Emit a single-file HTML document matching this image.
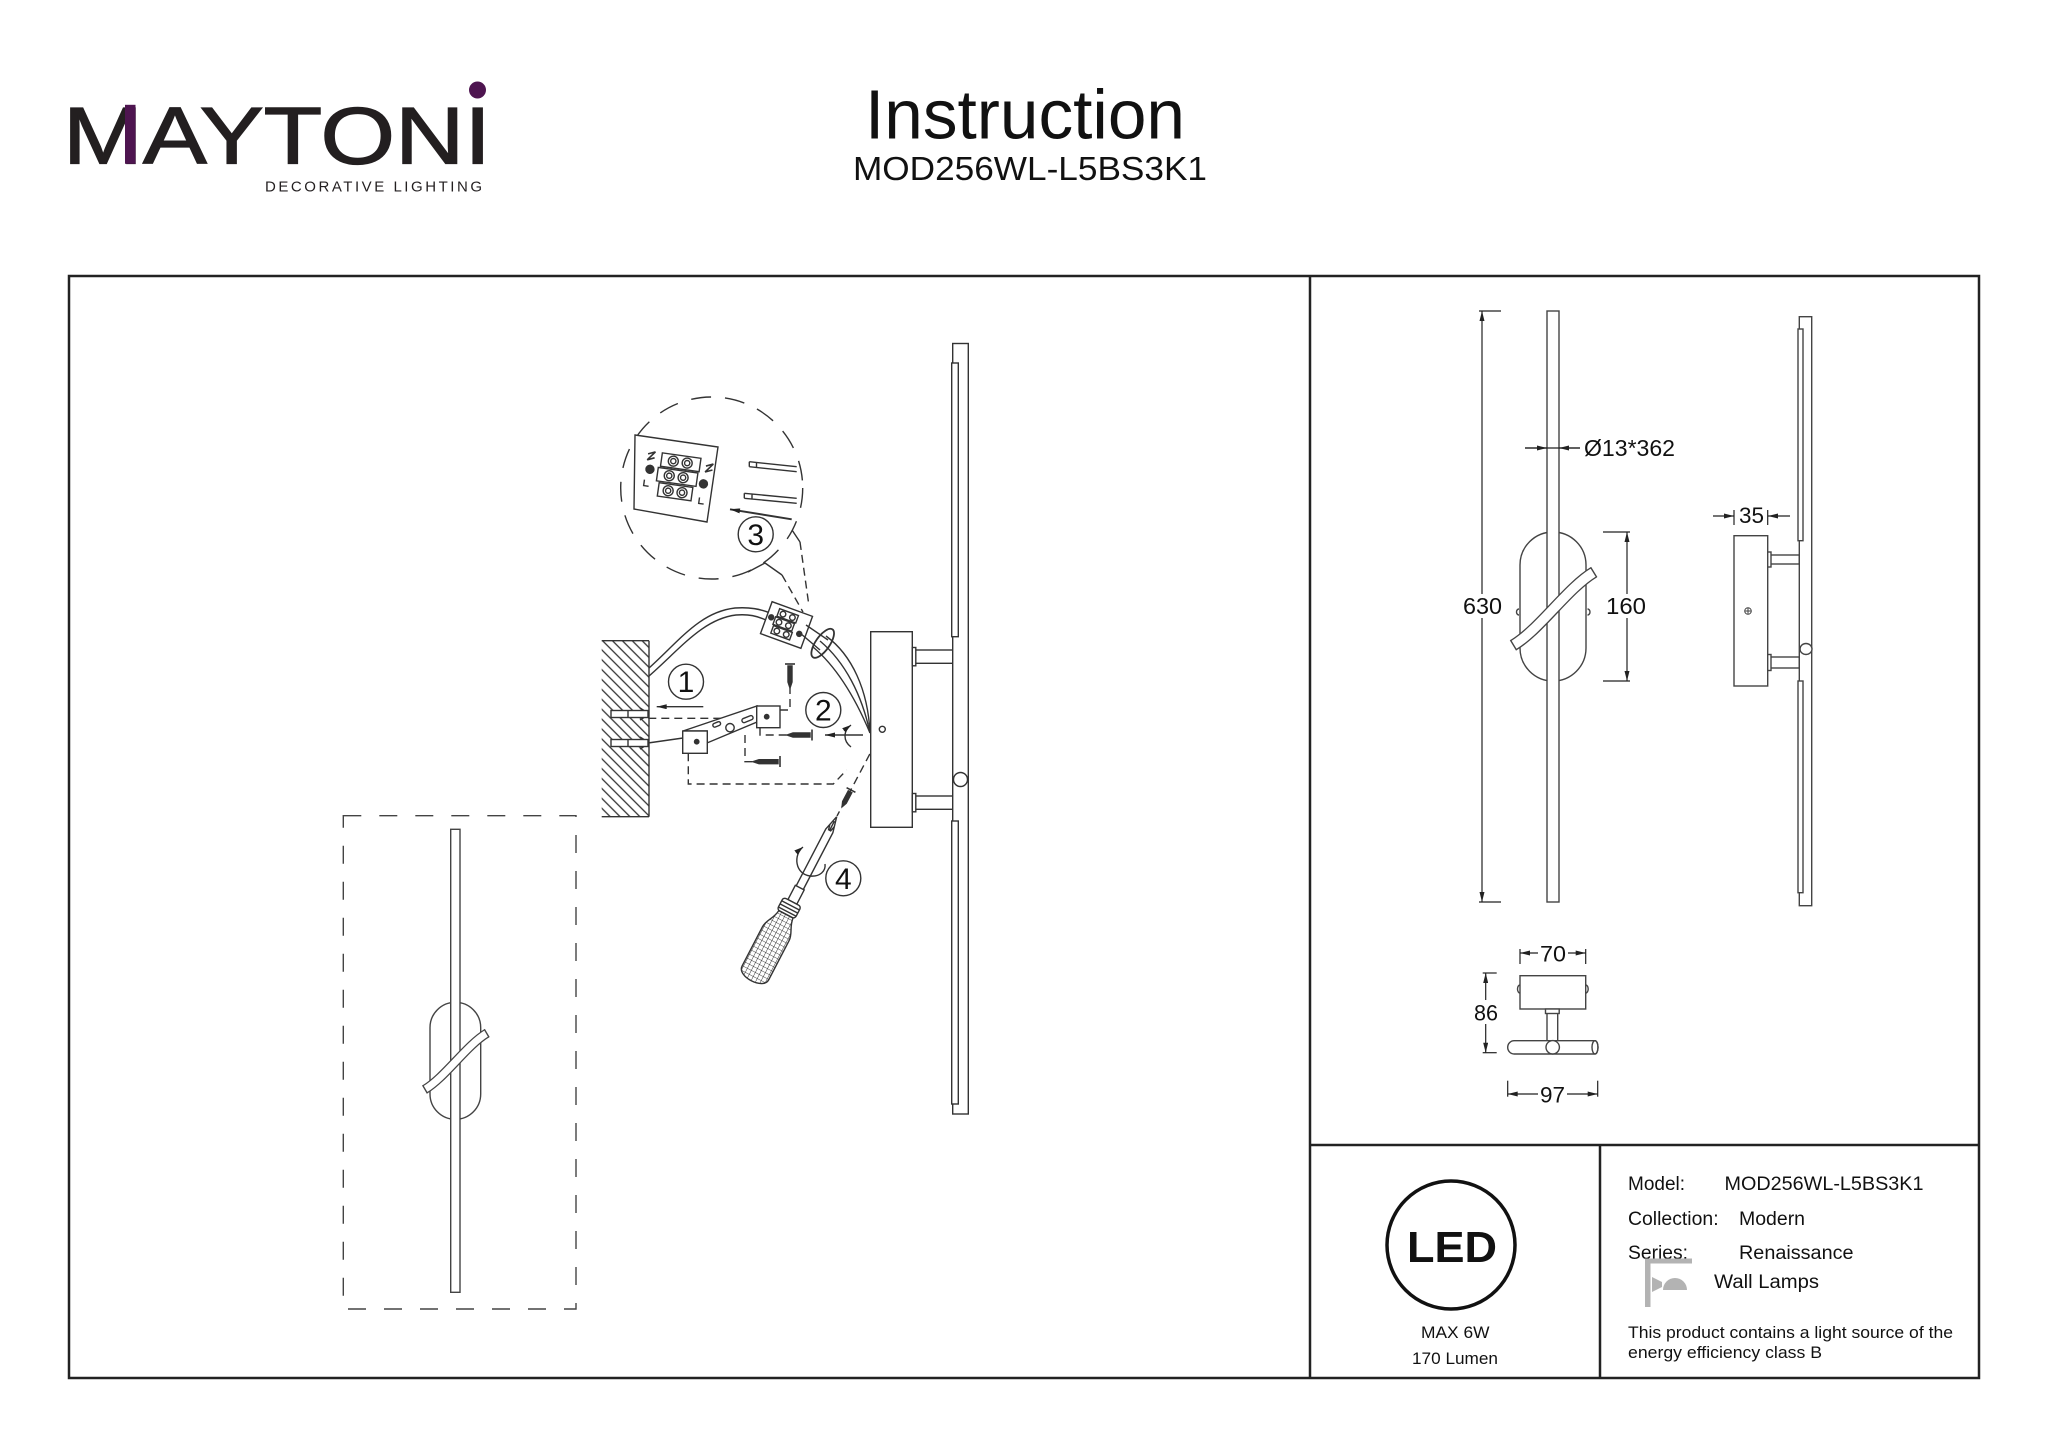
<!DOCTYPE html>
<html><head><meta charset="utf-8"><style>html,body{margin:0;padding:0;background:#fff}svg{display:block}</style></head><body>
<svg width="2048" height="1447" viewBox="0 0 2048 1447" xmlns="http://www.w3.org/2000/svg" font-family="'Liberation Sans', Arial, sans-serif">
<defs>
<marker id="ar" viewBox="0 0 12 6" refX="12" refY="3" markerWidth="12" markerHeight="5" orient="auto-start-reverse" markerUnits="userSpaceOnUse"><path d="M0,0 L12,3 L0,6 z" fill="#222"/></marker>
<marker id="ar2" viewBox="0 0 10 6" refX="10" refY="3" markerWidth="9" markerHeight="6" orient="auto-start-reverse" markerUnits="userSpaceOnUse"><path d="M0,0 L10,3 L0,6 z" fill="#222"/></marker>
<pattern id="hatch" width="7" height="7" patternUnits="userSpaceOnUse" patternTransform="rotate(-45)"><line x1="1" y1="0" x2="1" y2="7" stroke="#333" stroke-width="1.3"/></pattern>
<pattern id="grid" width="4.5" height="4.5" patternUnits="userSpaceOnUse"><path d="M0,0 H4.5 M0,0 V4.5" stroke="#333" stroke-width="0.9" fill="none"/></pattern>
</defs>
<rect width="2048" height="1447" fill="#fff"/>

<!-- Header logo -->
<text x="63" y="163.3" font-size="81" fill="#231f20" stroke="#231f20" stroke-width="1.3" textLength="428" lengthAdjust="spacingAndGlyphs">MAYTONI</text>
<rect x="125" y="104.8" width="10.5" height="59" fill="#4e1550"/>
<circle cx="477.5" cy="90" r="8.5" fill="#4e1550"/>
<text x="265" y="191.7" font-size="15" fill="#231f20" textLength="217" lengthAdjust="spacing">DECORATIVE LIGHTING</text>

<!-- Title -->
<text x="865" y="138.5" font-size="70" fill="#111" textLength="320" lengthAdjust="spacingAndGlyphs">Instruction</text>
<text x="853" y="180" font-size="33" fill="#111" textLength="354" lengthAdjust="spacingAndGlyphs">MOD256WL-L5BS3K1</text>

<!-- Frame -->
<g stroke="#222" stroke-width="2.5" fill="none">
<rect x="69" y="276" width="1910" height="1102"/>
<line x1="1310" y1="276" x2="1310" y2="1378"/>
<line x1="1310" y1="1145" x2="1979" y2="1145"/>
<line x1="1600" y1="1145" x2="1600" y2="1378"/>
</g>

<!-- Left dashed box lamp -->
<g stroke="#444" stroke-width="1.4" fill="none">
<rect x="343.3" y="815.7" width="232.7" height="493.3" stroke-dasharray="18 18"/>
<rect x="430" y="1002.3" width="50.7" height="117" rx="25.3"/>
<rect x="450.7" y="829.3" width="9.3" height="463" fill="#fff"/>
<path d="M486.7,1033.3 C466.7,1045.3 445,1077.3 425,1089.3" stroke="#444" stroke-width="9.5"/>
<path d="M486.7,1033.3 C466.7,1045.3 445,1077.3 425,1089.3" stroke="#fff" stroke-width="7"/>
<line x1="489.1" y1="1037.4" x2="484.3" y2="1029.2"/>
<line x1="427.4" y1="1093.4" x2="422.6" y2="1085.2"/>
</g>

<!-- Installation drawing -->
<g stroke="#333" stroke-width="1.4" fill="none">
<rect x="601.7" y="640.7" width="47.3" height="176" fill="url(#hatch)" stroke="none"/>
<line x1="649" y1="640.7" x2="649" y2="816.7"/>
<line x1="601.7" y1="640.7" x2="649" y2="640.7"/>
<line x1="601.7" y1="816.7" x2="649" y2="816.7"/>
<rect x="611" y="710.5" width="37" height="7" fill="#fff"/>
<line x1="628" y1="710.5" x2="628" y2="717.5"/>
<path d="M640,708 L644,710.5 M640,720 L644,717.5"/>
<rect x="611" y="739.5" width="37" height="7" fill="#fff"/>
<line x1="628" y1="739.5" x2="628" y2="746.5"/>
<path d="M640,737 L644,739.5 M640,749 L644,746.5"/>
<path d="M649,668 C680,640 700,612 735,608 C750,607 760,609 770,613"/>
<path d="M649,676 C681,648 703,619 736,615 C749,614 757,616 766,620"/>
<g stroke-dasharray="8 5">
<path d="M648.3,718.3 H721"/>
<path d="M780,710 H790 V688"/>
<path d="M760,727.7 V735 H787"/>
<path d="M745,735 V761.7 H753"/>
<path d="M688.3,753.3 V784 H833.3 L846.7,770"/>
<path d="M882,731 L837,816"/>
<path d="M782,575 L803,612"/>
<path d="M800,542 L809,606"/>
</g>
<path d="M648,743 L683,738"/>
<polygon points="683,731 757,706 757,722 707,743 707,731" fill="#fff"/>
<rect x="682.7" y="731" width="24.6" height="22.3" fill="#fff"/>
<rect x="756.7" y="706" width="23.3" height="21.7" fill="#fff"/>
<rect x="712.7" y="722.5" width="8" height="3.8" rx="1.8" transform="rotate(-22 716.7 724.4)"/>
<circle cx="730" cy="727.7" r="4.2"/>
<rect x="741.7" y="717" width="11.6" height="4.2" rx="2" transform="rotate(-22 747.5 719.1)"/>
<circle cx="696.7" cy="741.7" r="2.2" fill="#333"/>
<circle cx="766.7" cy="716.7" r="2.2" fill="#333"/>
<line x1="785" y1="664" x2="795" y2="664" stroke-width="1.6"/>
<path d="M788,666 H792 V682 L790,688 L788,682 Z" fill="#333"/>
<line x1="812" y1="729.5" x2="812" y2="740.5" stroke-width="1.6"/>
<path d="M787,735 L793,733 H810 V737 H793 Z" fill="#333"/>
<line x1="780" y1="756" x2="780" y2="767" stroke-width="1.6"/>
<path d="M753,761.7 L759,759.7 H778 V763.7 H759 Z" fill="#333"/>
<g transform="translate(851,790) rotate(118)">
<line x1="0" y1="-5" x2="0" y2="5" stroke-width="1.6"/>
<path d="M2,-2 H14 L19,0 L14,2 H2 Z" fill="#333"/>
</g>
<line x1="703.3" y1="706.7" x2="656.7" y2="706.7" marker-end="url(#ar)"/>
<line x1="863" y1="735" x2="825" y2="735" marker-end="url(#ar)"/>
<path d="M851,725 C843,731 843,741 851,747" marker-start="url(#ar2)"/>
<g transform="translate(786.5,625) rotate(20)">
<rect x="-21.5" y="-17" width="43" height="34" fill="#fff"/>
<rect x="-12" y="-13" width="20" height="8"/>
<rect x="-13" y="-4" width="20" height="8"/>
<rect x="-12" y="5" width="20" height="8"/>
<circle cx="-7" cy="-9" r="2.8"/><circle cx="3" cy="-9" r="2.8"/>
<circle cx="-8" cy="0" r="2.8"/><circle cx="2" cy="0" r="2.8"/>
<circle cx="-7" cy="9" r="2.8"/><circle cx="3" cy="9" r="2.8"/>
<circle cx="-17" cy="-2" r="2.5" fill="#333"/><circle cx="15" cy="4" r="2.5" fill="#333"/>
</g>
<path d="M806,625 L828,640"/>
<path d="M800,633 L820,650"/>
<ellipse cx="822.7" cy="643.3" rx="17" ry="7" transform="rotate(-55 822.7 643.3)" stroke-width="1.8"/>
<path d="M826,636 C852,655 868,690 870,733"/>
<path d="M820,641 C845,662 862,695 870,733"/>
<path d="M813,647 C838,668 857,702 870,733"/>
<rect x="870.7" y="631.7" width="41.6" height="195.6" fill="#fff"/>
<rect x="912.3" y="650" width="40.4" height="13.3" fill="#fff"/>
<rect x="912.3" y="647.5" width="3.5" height="18.3" fill="#fff"/>
<rect x="912.3" y="796" width="40.4" height="13.3" fill="#fff"/>
<rect x="912.3" y="793.5" width="3.5" height="18.3" fill="#fff"/>
<rect x="952.7" y="343.5" width="15.6" height="770.5" fill="#fff"/>
<rect x="951.7" y="363" width="6.6" height="273.7" fill="#fff"/>
<rect x="951.7" y="821" width="6.6" height="283" fill="#fff"/>
<circle cx="960.5" cy="779.5" r="7" fill="#fff"/>
<circle cx="882.3" cy="729.3" r="3"/>
<circle cx="711.7" cy="488" r="91" stroke-dasharray="20 14"/>
<polyline points="748,572 765,563 782,575"/>
<polyline points="792,530 800,542"/>
<polygon points="635,435 718,447 707,522 634,509" fill="#fff"/>
<g transform="rotate(8 676 478)">
<rect x="659" y="455" width="39" height="13.5"/>
<rect x="657" y="470" width="40" height="13.5"/>
<rect x="660" y="485" width="34" height="13.5"/>
<circle cx="671" cy="461.7" r="5"/><circle cx="671" cy="461.7" r="2.6"/>
<circle cx="685" cy="461.7" r="5"/><circle cx="685" cy="461.7" r="2.6"/>
<circle cx="669" cy="476.7" r="5"/><circle cx="669" cy="476.7" r="2.6"/>
<circle cx="683" cy="476.7" r="5"/><circle cx="683" cy="476.7" r="2.6"/>
<circle cx="670" cy="491.7" r="5"/><circle cx="670" cy="491.7" r="2.6"/>
<circle cx="684" cy="491.7" r="5"/><circle cx="684" cy="491.7" r="2.6"/>
<circle cx="649" cy="473" r="4" fill="#333"/>
<circle cx="704" cy="480" r="4" fill="#333"/>
<path d="M645,458 L652,455 L645,464 L652,461" stroke-width="1.6"/>
<path d="M704,462 L711,459 L704,468 L711,465" stroke-width="1.6"/>
<path d="M645,484 V490 H650"/>
<path d="M702,494 V500 H707"/>
</g>
<path d="M749.3,461.7 L796.7,466.7 M749.3,466.7 L796.7,471.7 M749.3,461.7 V466.7 M756.5,462.5 V467.5"/>
<path d="M744.3,493.3 L796.7,498.3 M744.3,498.3 L796.7,503.3 M744.3,493.3 V498.3 M752,494 V499"/>
<line x1="791.7" y1="519.3" x2="730" y2="509.3" stroke-width="2" marker-end="url(#ar)"/>
<g transform="translate(836.7,816.7) rotate(117.5)">
<path d="M0,0 L16,-4 L80,-4 M0,0 L16,4 L80,4 M5,0 L16,0 M10,-2.5 L16,-1 M10,2.5 L16,1"/>
<rect x="80" y="-5" width="16" height="10" fill="#fff"/>
<rect x="96" y="-10" width="14" height="20" rx="3" fill="#fff"/>
<path d="M100,-10 V10 M103.5,-10 V10 M107,-10 V10"/>
<path d="M110,-8 C120,-9 124,-15 132,-15 L176,-15 C188,-15 188,15 176,15 L132,15 C124,15 120,9 110,8 Z" fill="url(#grid)"/>
</g>
<path d="M803,847 C793,855 795,874 810,876 C820,877 826,871 825,864" marker-start="url(#ar2)"/>
<circle cx="686" cy="681.7" r="17.5" fill="#fff"/>
<circle cx="823.3" cy="710" r="17.5" fill="#fff"/>
<circle cx="755.7" cy="534.3" r="17.5" fill="#fff"/>
<circle cx="843.3" cy="878.3" r="17.5" fill="#fff"/>
</g>
<g font-size="30" fill="#111" text-anchor="middle">
<text x="686" y="692.2">1</text>
<text x="823.3" y="720.5">2</text>
<text x="755.7" y="544.8">3</text>
<text x="843.3" y="888.8">4</text>
</g>

<!-- Right panel: front view -->
<g stroke="#444" stroke-width="1.4" fill="none">
<rect x="1520" y="532" width="66" height="149" rx="33"/>
<path d="M1519,609 a2.5,3 0 0 0 0,6 M1587.5,609 a2.5,3 0 0 1 0,6"/>
<rect x="1547" y="311" width="12" height="591" fill="#fff"/>
<path d="M1593.7,572.3 C1567.7,587.9 1539.5,629.5 1513.5,645.1" stroke="#444" stroke-width="12"/>
<path d="M1593.7,572.3 C1567.7,587.9 1539.5,629.5 1513.5,645.1" stroke="#fff" stroke-width="9.4"/>
<line x1="1596.8" y1="577.4" x2="1590.6" y2="567.2"/>
<line x1="1516.6" y1="650.2" x2="1510.4" y2="640"/>
</g>
<g stroke="#222" stroke-width="1.2" fill="none">
<line x1="1482" y1="311" x2="1482" y2="902" marker-start="url(#ar)" marker-end="url(#ar)"/>
<line x1="1479" y1="311" x2="1501" y2="311"/>
<line x1="1479" y1="902" x2="1501" y2="902"/>
<line x1="1525" y1="448" x2="1580" y2="448"/>
<line x1="1525" y1="448" x2="1547" y2="448" marker-end="url(#ar)"/>
<line x1="1580" y1="448" x2="1559" y2="448" marker-end="url(#ar)"/>
<line x1="1627" y1="532" x2="1627" y2="681" marker-start="url(#ar)" marker-end="url(#ar)"/>
<line x1="1603" y1="532" x2="1630" y2="532"/>
<line x1="1603" y1="681" x2="1630" y2="681"/>
</g>
<rect x="1460" y="594" width="45" height="24" fill="#fff"/>
<rect x="1604" y="594" width="45" height="24" fill="#fff"/>
<g font-size="23" fill="#111">
<text x="1463" y="614" textLength="39" lengthAdjust="spacingAndGlyphs">630</text>
<text x="1606" y="614" textLength="40" lengthAdjust="spacingAndGlyphs">160</text>
<text x="1584" y="456" textLength="91" lengthAdjust="spacingAndGlyphs">Ø13*362</text>
</g>

<!-- Right panel: side view -->
<g stroke="#444" stroke-width="1.4" fill="none">
<rect x="1734" y="535.7" width="33.7" height="150.3" fill="#fff"/>
<rect x="1767.7" y="555" width="31.6" height="9" fill="#fff"/>
<rect x="1767.7" y="552" width="3.3" height="15" fill="#fff"/>
<rect x="1767.7" y="657" width="31.6" height="11" fill="#fff"/>
<rect x="1767.7" y="654.5" width="3.3" height="16" fill="#fff"/>
<rect x="1799.3" y="316.7" width="12.4" height="589" fill="#fff"/>
<rect x="1798" y="329" width="5" height="211.7" fill="#fff"/>
<rect x="1798" y="681" width="5" height="211.7" fill="#fff"/>
<ellipse cx="1806" cy="649" rx="6" ry="5.5" fill="#fff"/>
<circle cx="1748" cy="611" r="3.3" stroke-width="1"/>
<path d="M1744.7,611 H1751.3 M1748,607.7 V614.3" stroke-width="1"/>
</g>
<g stroke="#222" stroke-width="1.2" fill="none">
<line x1="1713" y1="516" x2="1734" y2="516" marker-end="url(#ar)"/>
<line x1="1790" y1="516" x2="1768" y2="516" marker-end="url(#ar)"/>
<line x1="1734" y1="510" x2="1734" y2="525"/>
<line x1="1767.7" y1="510" x2="1767.7" y2="525"/>
</g>
<text x="1739" y="523" font-size="22" fill="#111" textLength="25" lengthAdjust="spacingAndGlyphs">35</text>

<!-- Right panel: top view small -->
<g stroke="#444" stroke-width="1.4" fill="none">
<rect x="1520" y="975.7" width="65.7" height="33.3" fill="#fff"/>
<path d="M1520,985 a2.5,4 0 0 0 0,8 M1585.7,985 a2.5,4 0 0 1 0,8"/>
<rect x="1547" y="1013" width="10.7" height="28" fill="#fff"/>
<rect x="1545.5" y="1009" width="13.7" height="4.5" fill="#fff"/>
<path d="M1514.2,1040.7 H1595 A3,6.65 0 0 1 1595,1054 H1514.2 A6.5,6.65 0 0 1 1514.2,1040.7 Z" fill="#fff"/>
<ellipse cx="1595" cy="1047.3" rx="3" ry="6.65"/>
<circle cx="1552.7" cy="1047.3" r="6.7" fill="#fff"/>
</g>
<g stroke="#222" stroke-width="1.2" fill="none">
<line x1="1538" y1="953" x2="1520" y2="953" marker-end="url(#ar)"/>
<line x1="1568" y1="953" x2="1585.7" y2="953" marker-end="url(#ar)"/>
<line x1="1520" y1="949" x2="1520" y2="964"/>
<line x1="1585.7" y1="949" x2="1585.7" y2="964"/>
<line x1="1485.7" y1="973" x2="1485.7" y2="1052.7" marker-start="url(#ar)" marker-end="url(#ar)"/>
<line x1="1482.7" y1="973" x2="1496.7" y2="973"/>
<line x1="1482.7" y1="1052.7" x2="1496.7" y2="1052.7"/>
<line x1="1538" y1="1094" x2="1507.7" y2="1094" marker-end="url(#ar)"/>
<line x1="1567" y1="1094" x2="1597.7" y2="1094" marker-end="url(#ar)"/>
<line x1="1507.7" y1="1080.7" x2="1507.7" y2="1096.7"/>
<line x1="1597.7" y1="1080.7" x2="1597.7" y2="1096.7"/>
</g>
<rect x="1472" y="1000" width="28" height="24" fill="#fff"/>
<g font-size="22" fill="#111">
<text x="1540" y="961.7" textLength="26" lengthAdjust="spacingAndGlyphs">70</text>
<text x="1474" y="1020.7" textLength="24" lengthAdjust="spacingAndGlyphs">86</text>
<text x="1540" y="1102.7" textLength="25" lengthAdjust="spacingAndGlyphs">97</text>
</g>

<!-- Bottom panel: LED -->
<circle cx="1451" cy="1245" r="64" fill="none" stroke="#111" stroke-width="3.5"/>
<text x="1407" y="1262" font-size="44" font-weight="bold" fill="#111" textLength="90" lengthAdjust="spacingAndGlyphs">LED</text>
<g font-size="17" fill="#111">
<text x="1421" y="1338" textLength="68.5" lengthAdjust="spacingAndGlyphs">MAX 6W</text>
<text x="1412" y="1364" textLength="86" lengthAdjust="spacingAndGlyphs">170 Lumen</text>
</g>

<!-- Bottom panel: info -->
<g font-size="19" fill="#111">
<text x="1628" y="1190" textLength="57" lengthAdjust="spacingAndGlyphs">Model:</text>
<text x="1724.5" y="1190" textLength="199" lengthAdjust="spacingAndGlyphs">MOD256WL-L5BS3K1</text>
<text x="1628" y="1225" textLength="90.6" lengthAdjust="spacingAndGlyphs">Collection:</text>
<text x="1739" y="1225" textLength="66" lengthAdjust="spacingAndGlyphs">Modern</text>
<text x="1628" y="1259" textLength="60" lengthAdjust="spacingAndGlyphs">Series:</text>
<text x="1739" y="1259" textLength="114.5" lengthAdjust="spacingAndGlyphs">Renaissance</text>
<text x="1714" y="1288" textLength="105" lengthAdjust="spacingAndGlyphs">Wall Lamps</text>
</g>
<path d="M1645,1307 V1258.5 H1692 V1263.5 H1650.5 V1307 Z" fill="#b3b3b3"/>
<polygon points="1652,1277 1662,1282 1662,1287 1652,1292" fill="#b3b3b3"/>
<path d="M1663,1290 A12,12 0 0 1 1687,1290 Z" fill="#b3b3b3"/>
<g font-size="17" fill="#111">
<text x="1628" y="1338" textLength="325" lengthAdjust="spacingAndGlyphs">This product contains a light source of the</text>
<text x="1628" y="1358" textLength="194" lengthAdjust="spacingAndGlyphs">energy efficiency class B</text>
</g>
</svg>
</body></html>
